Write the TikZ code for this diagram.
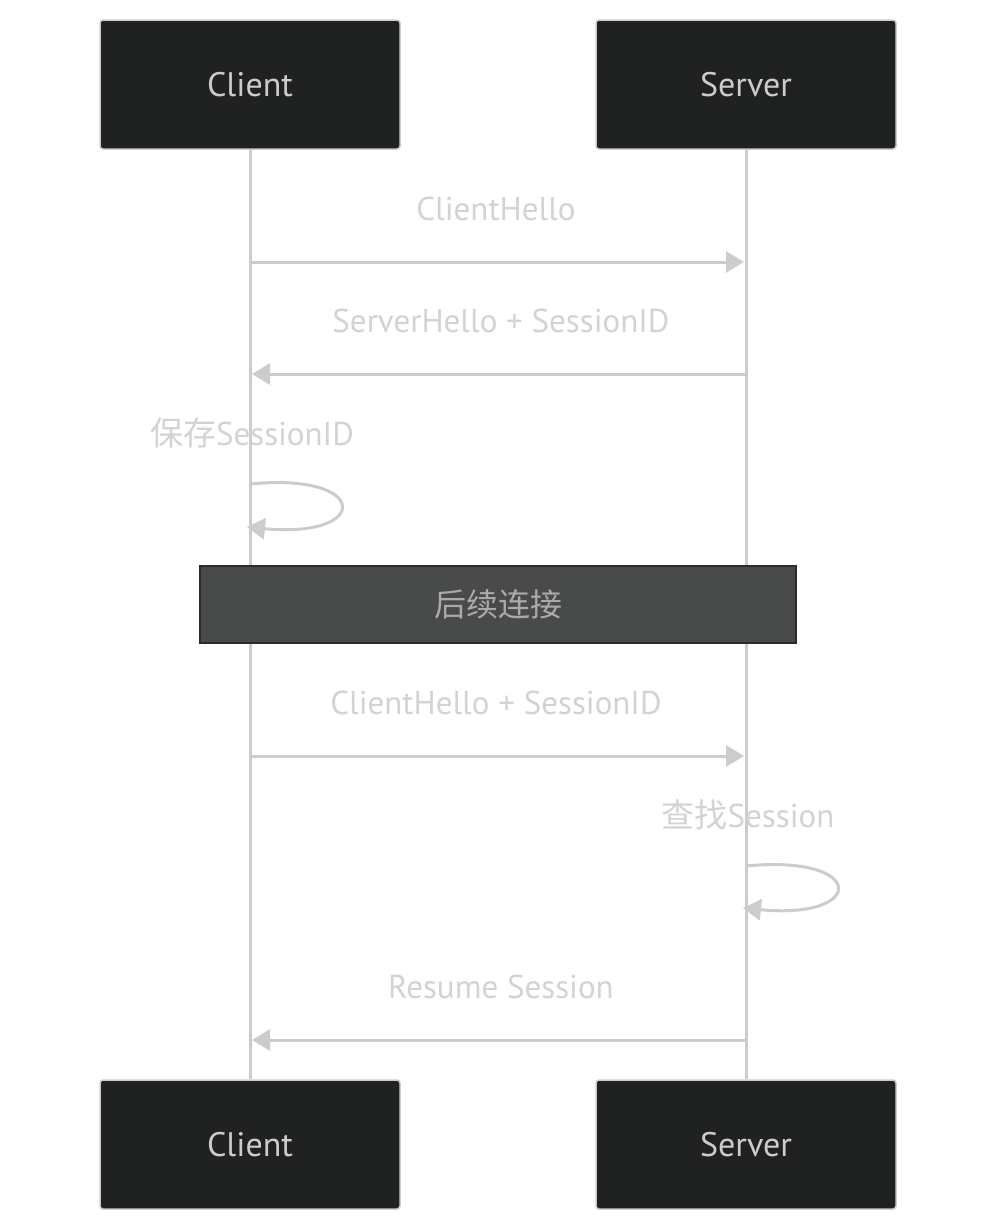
\documentclass[tikz,border=0pt]{standalone}
\usepackage{fontspec}
\setmainfont{PT Sans}
\newfontfamily\cjk{Noto Sans CJK SC}
\usetikzlibrary{arrows.meta}
\definecolor{actfill}{HTML}{202121}
\definecolor{lgray}{HTML}{CCCCCC}
\definecolor{msgtxt}{HTML}{D3D3D3}
\definecolor{notefill}{HTML}{494B4B}
\definecolor{noteborder}{HTML}{2B2B2B}
\definecolor{notetxt}{HTML}{AAAAAA}
\begin{document}
\begin{tikzpicture}[x=1pt,y=-1pt,
  actor/.style={draw=lgray,line width=1.5pt,fill=actfill,rounded corners=3pt,minimum width=300pt,minimum height=129pt,text=lgray,font=\fontsize{34}{40}\selectfont,inner sep=0pt},
  life/.style={draw=lgray,line width=3pt},
  msg/.style={draw=lgray,line width=3pt,-{Triangle[length=18pt,width=21pt]}},
  msgtext/.style={text=msgtxt,font=\fontsize{33}{38}\selectfont,inner sep=0pt},
  notebox/.style={draw=noteborder,line width=1.5pt,fill=notefill,minimum width=596pt,minimum height=77pt,inner sep=0pt,text=notetxt,font=\cjk\fontsize{32}{38}\selectfont}]
\useasboundingbox (0,0) rectangle (998,1232);
\fill[white] (0,0) rectangle (998,1232);
% actors
\node[actor] (c1) at (250,84.5) {Client};
\node[actor] (s1) at (746,84.5) {Server};
\node[actor] (c2) at (250,1144.5) {Client};
\node[actor] (s2) at (746,1144.5) {Server};
% lifelines
\draw[life] (c1.south) -- (c2.north);
\draw[life] (s1.south) -- (s2.north);
% message coordinates
\coordinate (m1a) at (250,262); \coordinate (m1b) at (744,262);
\coordinate (m2a) at (746,374); \coordinate (m2b) at (252,374);
\coordinate (l1a) at (250,484); \coordinate (l1b) at (247,527);
\coordinate (m3a) at (250,756); \coordinate (m3b) at (744,756);
\coordinate (l2a) at (746,866); \coordinate (l2b) at (743,908);
\coordinate (m4a) at (746,1040); \coordinate (m4b) at (252,1040);
% note
\node[notebox] (note) at (498,604.5) {后续连接};
% messages
\node[msgtext] (t1) at (496,209) {ClientHello};
\draw[msg] (m1a) -- (m1b);
\node[msgtext] (t2) at (501,321) {ServerHello + SessionID};
\draw[msg] (m2a) -- (m2b);
\node[msgtext] (t3) at (252,433) {{\cjk 保存}SessionID};
\draw[msg] (l1a) .. controls (371,472) and (371,539) .. (l1b);
\node[msgtext] (t4) at (496,703) {ClientHello + SessionID};
\draw[msg] (m3a) -- (m3b);
\node[msgtext] (t5) at (748,815) {{\cjk 查找}Session};
\draw[msg] (l2a) .. controls (867,854) and (867,920) .. (l2b);
\node[msgtext] (t6) at (501,987) {Resume Session};
\draw[msg] (m4a) -- (m4b);
\end{tikzpicture}
\end{document}
